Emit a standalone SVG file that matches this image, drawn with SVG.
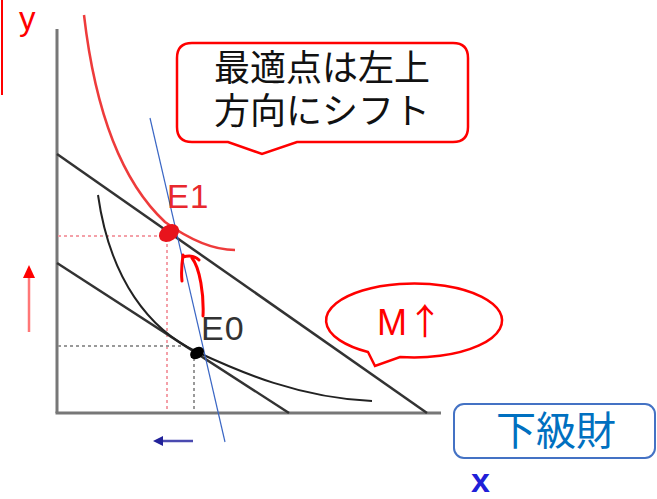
<svg xmlns="http://www.w3.org/2000/svg" width="657" height="499" viewBox="0 0 657 499">
<style>
.axis{stroke:#777;stroke-width:3;fill:none}
.budget{stroke:#333;stroke-width:2.5;fill:none}
.dotred{stroke:#f4a0a8;stroke-width:2;stroke-dasharray:3 3;fill:none}
.dotblk{stroke:#999;stroke-width:2;stroke-dasharray:3 3;fill:none}
.callout{fill:#fff;stroke:#f00;stroke-width:2.5}
.jp{font-family:"Noto Sans CJK JP","Noto Sans CJK SC",sans-serif}
.lat{font-family:"Liberation Sans",Arial,sans-serif}
</style>
<rect width="657" height="499" fill="#fff"/>
<line x1="2" y1="0" x2="2" y2="95" stroke="#f00" stroke-width="2"/>
<g id="connectors">
<line class="axis" x1="57" y1="29" x2="57" y2="413"/>
<line class="axis" x1="55.5" y1="413" x2="441" y2="413"/>
<line class="dotred" x1="58" y1="236" x2="166" y2="236"/>
<line class="dotred" x1="167" y1="238" x2="167" y2="411"/>
<line class="dotblk" x1="58" y1="346" x2="188" y2="346"/>
<line class="dotblk" x1="194" y1="358" x2="194" y2="411"/>
<line class="budget" x1="57" y1="154" x2="427" y2="413"/>
<line class="budget" x1="57" y1="263" x2="289" y2="413"/>
<path d="M98,195 C110,280 150,330 197,352 C240,372 300,398 372,401" fill="none" stroke="#222" stroke-width="2"/>
<path d="M84,15 C95,110 120,180 165,222 C190,240 215,250 235,250" fill="none" stroke="#ee3b3b" stroke-width="2.5"/>
<line x1="150" y1="118" x2="225" y2="442" stroke="#3a66c4" stroke-width="1.2"/>
<line x1="29" y1="332" x2="29" y2="276" stroke="#f77" stroke-width="2.5"/>
<polygon points="23,278 29,265 35,278" fill="#f00"/>
<line x1="193" y1="441" x2="162" y2="441" stroke="#4a4ab0" stroke-width="2.5"/>
<polygon points="163,436 153,441 163,446" fill="#22229a"/>
<path d="M203,316 C204,295 200,268 192,258 M182,281 C181,272 182,262 183,255 M183,257 C189,255 195,256 199,260" fill="none" stroke="#f00" stroke-width="3" stroke-linecap="round"/>
</g>
<g id="E1">
<ellipse cx="169" cy="233" rx="11" ry="8" transform="rotate(-35 169 233)" fill="#e8141c"/>
<text class="lat" x="167" y="208" font-size="33" letter-spacing="1" fill="#e8282e">E1</text>
</g>
<g id="E0">
<ellipse cx="197" cy="353" rx="7.5" ry="5.5" transform="rotate(-35 197 353)" fill="#000"/>
<text class="lat" x="201" y="340" font-size="34" letter-spacing="1" fill="#333">E0</text>
</g>
<g id="label-y">
<text class="lat" x="19" y="30" font-size="33" fill="#f00">y</text>
</g>
<g id="label-x">
<text class="lat" x="471" y="492" font-size="34" font-weight="bold" fill="#2020d8">x</text>
</g>
<g id="callout-shift">
<path class="callout" d="M192,43 H453 Q468,43 468,58 V127 Q468,142 453,142 H297 L262,154 L228,142 H192 Q177,142 177,127 V58 Q177,43 192,43 Z"/>
<text class="jp" font-size="36" fill="#111" text-anchor="middle"><tspan x="322" y="81">最適点は左上</tspan><tspan x="322" y="124">方向にシフト</tspan></text>
</g>
<g id="callout-M">
<path class="callout" d="M368,352 A88,37 0 1 1 400,357 L375,366 Z"/>
<text x="377" y="335" font-size="36" fill="#f00" font-family="'Liberation Sans','Noto Sans CJK JP',sans-serif">M<tspan class="jp">↑</tspan></text>
</g>
<g id="box-inferior">
<rect x="454" y="404" width="201" height="54" rx="10" fill="#fff" stroke="#4472c4" stroke-width="2"/>
<text class="jp" x="556" y="445" font-size="40" fill="#0070c0" text-anchor="middle">下級財</text>
</g>
</svg>
